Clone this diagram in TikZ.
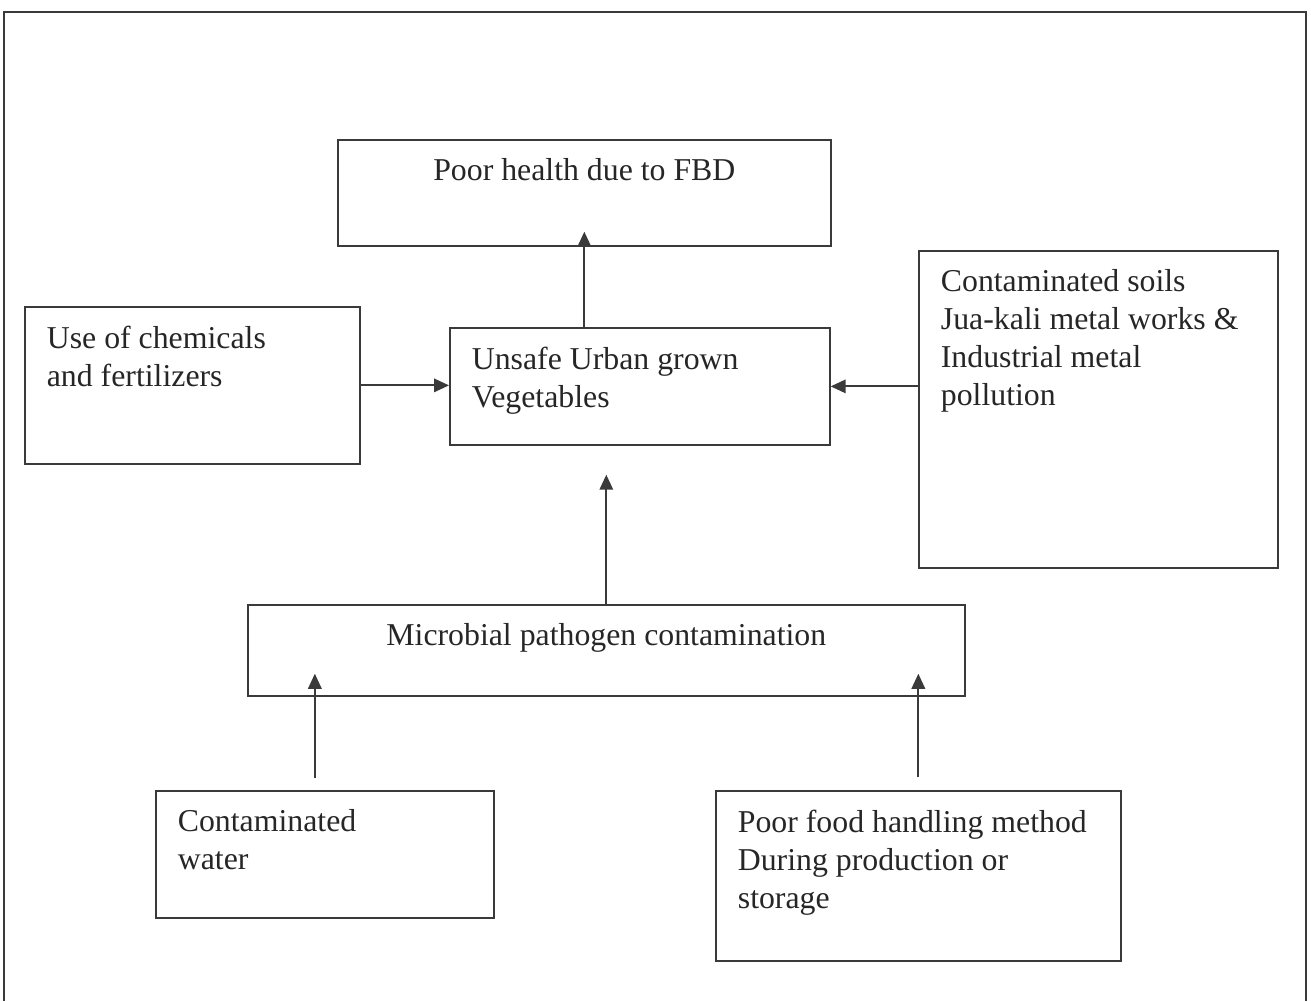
\documentclass[tikz,border=0pt]{standalone}
\usepackage{fontspec}
\setmainfont{Liberation Serif}
\usepackage{xcolor}
\usepackage{tikz}
\usetikzlibrary{arrows.meta, positioning}
\definecolor{inkgray}{HTML}{3A3A3A}
\definecolor{txtgray}{HTML}{262626}

\begin{document}
\begin{tikzpicture}[x=0.02cm, y=-0.02cm, line width=1pt, color=inkgray, text=txtgray,
  blk/.style={draw=inkgray, anchor=north west, inner xsep=0.44cm, inner ysep=0.38cm,
    font=\fontsize{18.1}{21.6}\selectfont},
  arr/.style={-{Triangle[length=0.3cm,width=0.27cm]}}]
  \useasboundingbox (0,0) rectangle (1311,1001);
  \draw (4,1001) -- (4,12) -- (1306,12) -- (1306,1001);

  \node[blk] (poor) at (337,139) {\parbox[t][1.36cm][t]{8.98cm}{\centering Poor health due to FBD}};
  \node[blk] (chem) at (24,306) {\parbox[t][2.38cm][t]{5.82cm}{\raggedright Use of chemicals\\ and fertilizers}};
  \node[blk] (unsafe) at (449,327) {\parbox[t][1.58cm][t]{6.72cm}{\raggedright Unsafe Urban grown\\ Vegetables}};
  \node[blk] (soils) at (918,250) {\parbox[t][5.58cm][t]{6.30cm}{\raggedright Contaminated soils\\ Jua-kali metal works \&\\ Industrial metal\\ pollution}};
  \node[blk] (microbial) at (247,604) {\parbox[t][1.06cm][t]{13.46cm}{\centering Microbial pathogen contamination}};
  \node[blk] (water) at (155,790) {\parbox[t][1.78cm][t]{5.88cm}{\raggedright Contaminated\\ water}};
  \node[blk] (food) at (715,790) {\parbox[t][2.64cm][t]{7.22cm}{\raggedright Poor food handling method\\ During production or\\ storage}};

  \draw[arr] (poor.south |- unsafe.north) -- ([yshift=0.3cm]poor.south);
  \draw[arr] (chem.east) -- (chem.east -| unsafe.west);
  \draw[arr] (unsafe.east -| soils.west) -- (unsafe.east);
  \draw[arr] (microbial.north) -- ([yshift=-0.58cm]unsafe.south -| microbial.north);
  \draw[arr] ([xshift=-0.2cm, yshift=0.24cm]water.north) -- ([xshift=-0.2cm, yshift=0.46cm]water.north |- microbial.south);
  \draw[arr] ([yshift=0.26cm]food.north) -- ([yshift=0.46cm]food.north |- microbial.south);
\end{tikzpicture}
\end{document}
